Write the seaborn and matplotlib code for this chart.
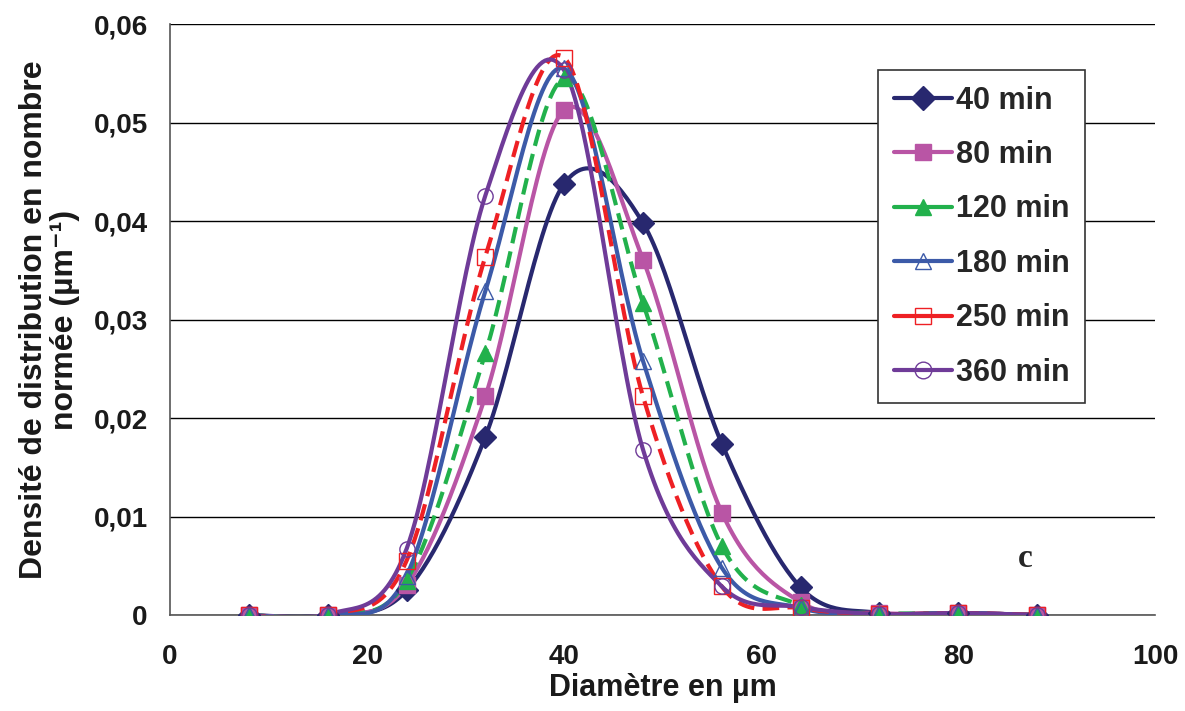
import numpy as np
import pandas as pd
import matplotlib
matplotlib.use("Agg")
import matplotlib.pyplot as plt
from matplotlib.lines import Line2D
from matplotlib.ticker import FuncFormatter
import seaborn as sns

sns.set_style("white")
plt.rcParams['font.family'] = ['Liberation Sans', 'DejaVu Sans']

# diamètres (µm)
diametre = [8, 16, 24, 32, 40, 48, 56, 64, 72, 80, 88]

# densité normée par durée
d40 = [0, 0, 0.0025, 0.0181, 0.0438, 0.0398, 0.0174, 0.0028, 0.0002, 0.0002, 0]
d80 = [0, 0, 0.0030, 0.0222, 0.0513, 0.0361, 0.0104, 0.0013, 0.0002, 0.0002, 0]
d120 = [0, 0, 0.0035, 0.0266, 0.0545, 0.0317, 0.0070, 0.0010, 0.0002, 0.0002, 0]
d180 = [0, 0, 0.0040, 0.0329, 0.0555, 0.0258, 0.0048, 0.0007, 0.0001, 0.0002, 0]
d250 = [0, 0, 0.0055, 0.0364, 0.0566, 0.0222, 0.0029, 0.0007, 0.0001, 0.0002, 0]
d360 = [0, 0, 0.0067, 0.0426, 0.0553, 0.0168, 0.0029, 0.0008, 0.0001, 0.0002, 0]

labels = ['40 min', '80 min', '120 min', '180 min', '250 min', '360 min']
series = [d40, d80, d120, d180, d250, d360]

# style: couleur, marqueur, rempli, trait
styles = [
    ('#28286f', 'D', True, '-'),
    ('#b955a5', 's', True, '-'),
    ('#22b14c', '^', True, (0, (4, 2))),
    ('#3c5aa8', '^', False, '-'),
    ('#ee2024', 's', False, (0, (4, 2))),
    ('#6f3b98', 'o', False, '-'),
]


def lissage(x, y, n=30):
    # courbe lissée façon Excel (Bézier de type Catmull-Rom)
    x = np.asarray(x, float)
    y = np.asarray(y, float)
    px = np.concatenate([[x[0]], x, [x[-1]]])
    py = np.concatenate([[y[0]], y, [y[-1]]])
    t = np.linspace(0, 1, n)
    xs, ys = [], []
    for i in range(1, len(x)):
        p0 = np.array([px[i - 1], py[i - 1]])
        p1 = np.array([px[i], py[i]])
        p2 = np.array([px[i + 1], py[i + 1]])
        p3 = np.array([px[i + 2], py[i + 2]])
        c1 = p1 + (p2 - p0) / 6
        c2 = p2 - (p3 - p1) / 6
        b = ((1 - t) ** 3)[:, None] * p1 + (3 * (1 - t) ** 2 * t)[:, None] * c1 \
            + (3 * (1 - t) * t ** 2)[:, None] * c2 + (t ** 3)[:, None] * p2
        xs.extend(b[:, 0])
        ys.extend(b[:, 1])
    return np.array(xs), np.array(ys)


fig = plt.figure(figsize=(11.85, 7.11), dpi=100)
ax = fig.add_axes([0.1435, 0.135, 0.8315, 0.831])

handles = []
for lab, y, (col, mk, filled, ls) in zip(labels, series, styles):
    xs, ys = lissage(diametre, y)
    df = pd.DataFrame({'x': xs, 'y': ys})
    sns.lineplot(data=df, x='x', y='y', ax=ax, color=col, lw=3, linestyle=ls,
                 sort=False, estimator=None, zorder=3)
    fc = col if filled else 'none'
    ax.plot(diametre, y, linestyle='none', marker=mk, ms=11, mfc=fc, mec=col,
            mew=1.0, zorder=4)
    handles.append(Line2D([], [], color=col, lw=3, linestyle='-', marker=mk,
                          ms=12, mfc=fc, mec=col, mew=1.0))

ax.set_xlim(0, 100)
ax.set_ylim(0, 0.06)
ax.set_xticks(range(0, 101, 20))
ax.set_yticks(np.arange(0, 0.061, 0.01))
ax.yaxis.set_major_formatter(FuncFormatter(
    lambda v, p: '0' if abs(v) < 1e-9 else f'{v:.2f}'.replace('.', ',')))
ax.grid(axis='y', color='black', lw=1.0)
ax.set_axisbelow(True)
for s in ['top', 'right']:
    ax.spines[s].set_visible(False)
for s in ['left', 'bottom']:
    ax.spines[s].set_color('#555555')
    ax.spines[s].set_linewidth(1.2)
ax.tick_params(axis='both', labelsize=20, direction='out', length=8,
               width=1.0, colors='#444444', labelcolor='#1a1a1a')
ax.tick_params(axis='y', pad=8)
ax.tick_params(axis='x', pad=13)
for lab in ax.get_xticklabels() + ax.get_yticklabels():
    lab.set_fontweight('bold')

ax.set_xlabel('Diamètre en µm', fontsize=22, fontweight='bold', labelpad=2,
              color='#1a1a1a')
ax.set_ylabel('Densité de distribution en nombre\nnormée (µm⁻¹)',
              fontsize=23, fontweight='bold', labelpad=10, color='#1a1a1a',
              family=['Liberation Sans Narrow', 'Liberation Sans', 'DejaVu Sans'],
              linespacing=1.05)

ax.text(86.8, 0.0057, 'c', fontsize=24, fontweight='bold',
        family=['Liberation Serif', 'DejaVu Serif'], ha='center', va='center')

leg = ax.legend(handles, labels, loc='upper left', bbox_to_anchor=(0.719, 0.922),
                prop={'weight': 'bold', 'size': 22}, frameon=True, fancybox=False,
                edgecolor='#333333', framealpha=1, handlelength=1.9,
                labelspacing=0.8, borderpad=0.5, handletextpad=0.15,
                borderaxespad=0)
leg.get_frame().set_linewidth(1.2)

fig.savefig('out.png', dpi=100)
